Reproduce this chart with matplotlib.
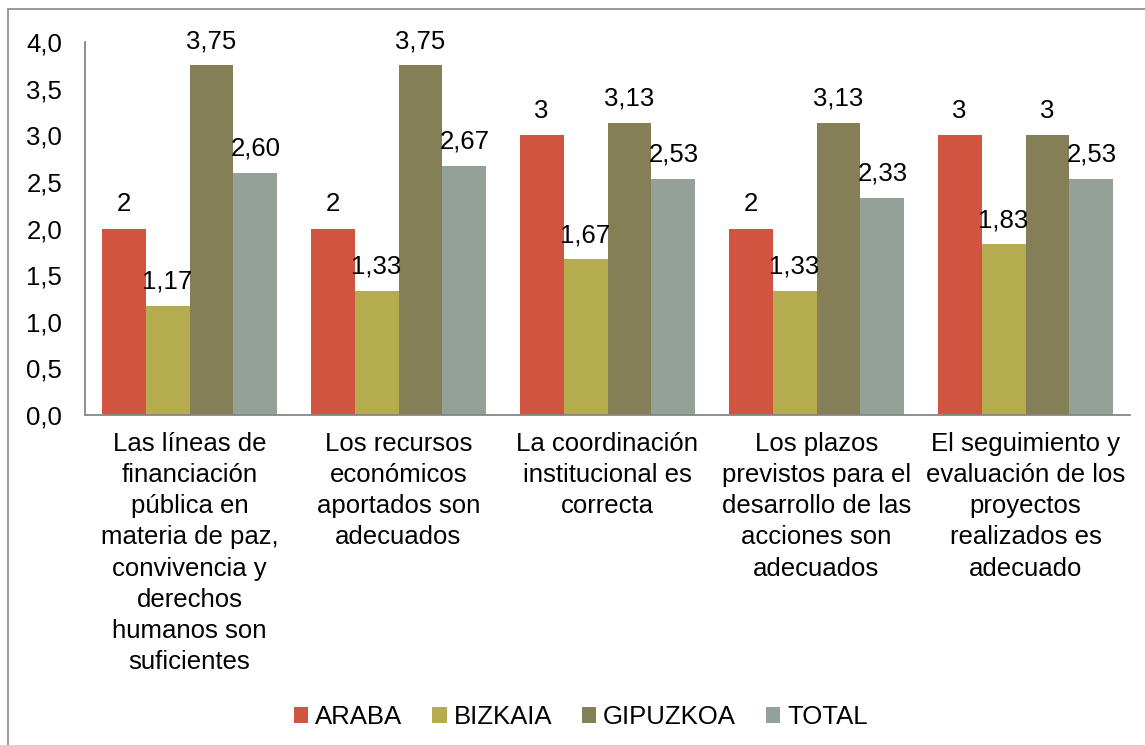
import matplotlib
matplotlib.use("Agg")
import matplotlib.pyplot as plt
import numpy as np

plt.rcParams['font.family'] = ['Liberation Sans', 'DejaVu Sans']

categories = [
    "Las líneas de\nfinanciación\npública en\nmateria de paz,\nconvivencia y\nderechos\nhumanos son\nsuficientes",
    "Los recursos\neconómicos\naportados son\nadecuados",
    "La coordinación\ninstitucional es\ncorrecta",
    "Los plazos\nprevistos para el\ndesarrollo de las\nacciones son\nadecuados",
    "El seguimiento y\nevaluación de los\nproyectos\nrealizados es\nadecuado",
]
series_names = ["ARABA", "BIZKAIA", "GIPUZKOA", "TOTAL"]
araba = [2, 2, 3, 2, 3]
bizkaia = [1.17, 1.33, 1.67, 1.33, 1.83]
gipuzkoa = [3.75, 3.75, 3.13, 3.13, 3.0]
total = [2.60, 2.67, 2.53, 2.33, 2.53]
araba_lbl = ["2", "2", "3", "2", "3"]
bizkaia_lbl = ["1,17", "1,33", "1,67", "1,33", "1,83"]
gipuzkoa_lbl = ["3,75", "3,75", "3,13", "3,13", "3"]
total_lbl = ["2,60", "2,67", "2,53", "2,33", "2,53"]
yticks = [0.0, 0.5, 1.0, 1.5, 2.0, 2.5, 3.0, 3.5, 4.0]
ytick_labels = ["0,0", "0,5", "1,0", "1,5", "2,0", "2,5", "3,0", "3,5", "4,0"]

colors = ["#D05440", "#B5AC50", "#847F56", "#93A199"]
values = [araba, bizkaia, gipuzkoa, total]
labels = [araba_lbl, bizkaia_lbl, gipuzkoa_lbl, total_lbl]

FS = 18.5

fig = plt.figure(figsize=(11.45, 7.45), dpi=100)
ax = fig.add_axes([85/1145, 1-415/745, (1130-85)/1145, (415-42)/745])

x = np.arange(len(categories))
w = 0.21
for i, (vals, lbls, c, name) in enumerate(zip(values, labels, colors, series_names)):
    pos = x + (i - 1.5) * w
    ax.bar(pos, vals, width=w, color=c, label=name)
    for p, v, l in zip(pos, vals, lbls):
        ax.text(p, v + 0.26, l, ha='center', va='center', fontsize=FS)

ax.set_ylim(0, 4.0)
ax.set_xlim(-0.5, len(categories) - 0.5)
ax.set_yticks(yticks)
ax.set_yticklabels(ytick_labels, fontsize=FS)
ax.set_xticks(x)
ax.set_xticklabels(categories, fontsize=FS, linespacing=1.38, va='top')
ax.tick_params(axis='both', length=0)
ax.tick_params(axis='y', pad=16.5)
ax.tick_params(axis='x', pad=12)
for s in ['top', 'right']:
    ax.spines[s].set_visible(False)
for s in ['left', 'bottom']:
    ax.spines[s].set_color('#868686')
    ax.spines[s].set_linewidth(1.3)

fig.legend(loc='center', bbox_to_anchor=(581/1145, 1-717/745), ncol=4, frameon=False,
           fontsize=FS, handlelength=0.55, handleheight=0.55, handletextpad=0.27,
           columnspacing=1.17)

border = plt.Rectangle((8/1145, -20/745), 1200/1145, (745 + 20 - 9)/745,
                       transform=fig.transFigure, fill=False, edgecolor='#868686',
                       linewidth=1.2, clip_on=False)
fig.patches.append(border)

fig.savefig("out.png", dpi=100)
